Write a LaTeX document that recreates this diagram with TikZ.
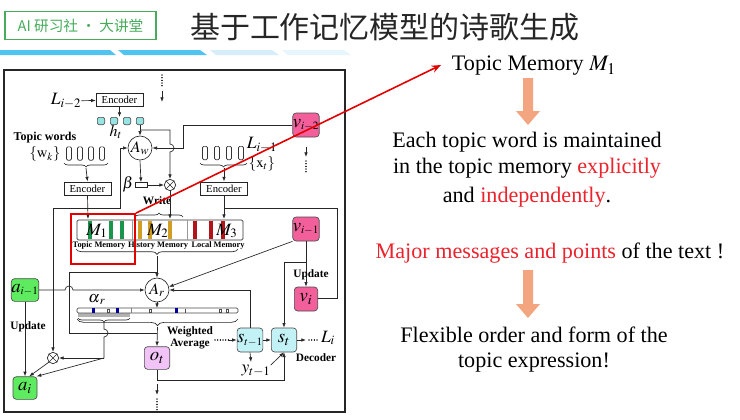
\documentclass[tikz,border=0pt]{standalone}
\usepackage{mathptmx}
\usepackage{fontspec}
\setmainfont{Liberation Serif}
\newfontfamily\cjk{Noto Sans CJK SC}
\usetikzlibrary{arrows.meta,decorations.pathreplacing}
\definecolor{vpink}{RGB}{242,95,155}
\definecolor{agreen}{RGB}{95,235,95}
\definecolor{scyan}{RGB}{195,242,246}
\definecolor{oviolet}{RGB}{242,195,246}
\definecolor{hcyan}{RGB}{150,228,228}
\definecolor{mgreen}{RGB}{25,150,75}
\definecolor{myellow}{RGB}{208,158,35}
\definecolor{mred}{RGB}{178,20,25}
\definecolor{barblue}{RGB}{80,195,240}
\definecolor{barlight}{RGB}{215,238,250}
\definecolor{badge}{RGB}{70,172,90}
\definecolor{orarrow}{RGB}{243,165,128}
\definecolor{hlred}{RGB}{235,35,45}
\newcommand\ssub[1]{{\scriptscriptstyle #1}}
\begin{document}
\begin{tikzpicture}[x=0.75pt,y=-0.75pt,
  ln/.style={draw=black!85, line width=0.5pt},
  ar/.style={ln, -{Latex[length=3.5pt,width=2.6pt]}},
  dotline/.style={draw=black, line width=1pt, dash pattern=on 0.01pt off 2pt, line cap=round},
  rbox/.style={draw=black!70, rounded corners=2.5pt, inner sep=0pt, line width=0.5pt, font=\fontsize{14}{14}\selectfont},
  vbox/.style={rbox, fill=vpink, minimum width=17.5pt, minimum height=18pt},
  abox/.style={rbox, fill=agreen, minimum width=18pt, minimum height=17pt},
  sbox/.style={rbox, fill=scyan, minimum width=19pt, minimum height=18pt},
  obox/.style={rbox, fill=oviolet, minimum width=19pt, minimum height=17pt},
  att/.style={circle, draw=black!85, line width=0.5pt, minimum size=18pt, inner sep=0pt, font=\fontsize{12}{12}\selectfont},
  otimes/.style={circle, draw=black!85, line width=0.5pt, minimum size=8.5pt, inner sep=0pt,
    path picture={\draw[line width=0.4pt] (path picture bounding box.south west) -- (path picture bounding box.north east) (path picture bounding box.north west) -- (path picture bounding box.south east);}},
  enc/.style={draw=black!85, line width=0.5pt, inner sep=0pt, minimum width=35pt, minimum height=10pt, font=\fontsize{8}{8}\selectfont},
  bl/.style={font=\fontsize{8.5}{9}\selectfont\bfseries, inner sep=0pt},
  ml/.style={font=\fontsize{13}{13}\selectfont, inner sep=0pt},
  tw/.style={draw=black!80, line width=0.5pt, rounded corners=1pt, minimum width=3.8pt, minimum height=10pt, inner sep=0pt},
  txt/.style={font=\fontsize{16.6}{19}\selectfont, inner sep=0pt},
  brc/.style={ln, decorate, decoration={brace, amplitude=#1}},
]
\useasboundingbox (0,0) rectangle (740,419);
\fill[white] (0,0) rectangle (740,419);

% ---------- header ----------
\node[draw=badge, line width=1.3pt, fill=white, minimum width=113pt, minimum height=21pt, inner sep=0pt,
      font=\cjk\fontsize{11}{11}\selectfont, text=badge] (badge) at (80.5,25.5) {AI 研习社 · 大讲堂};
\node[font=\cjk\fontsize{22.5}{24}\selectfont, text=black!85, inner sep=0pt] (title) at (385,27) {基于工作记忆模型的诗歌生成};
\fill[barblue] (0,50) -- (110,50) -- (116,55) -- (0,55) -- cycle;
\fill[barblue] (118,50) -- (200,50) -- (207,55) -- (124,55) -- cycle;
\fill[barlight] (210,50) -- (272,50) -- (279,55) -- (216,55) -- cycle;
\fill[barlight!60] (282,50) -- (344,50) -- (351,55) -- (288,55) -- cycle;

% ---------- frame ----------
\draw[line width=1.2pt, black!85] (4,70) rectangle (345,412);

% ---------- top part ----------
\coordinate (td1) at (162,75); \coordinate (td2) at (162,87);
\coordinate (ta1) at (162,91); \coordinate (ta2) at (162,102);
\draw[dotline] (td1) -- (td2);
\draw[ar] (ta1) -- (ta2);

\node[ml] (L2) at (66,101) {$L_{i-2}$};
\node[enc] (enc1) at (119.5,100) {Encoder};
\draw[ar] (L2) -- (enc1);
\foreach \i/\x in {1/101,2/114,3/127,4/140}
  \node[rbox, fill=hcyan, minimum size=5.5pt, rounded corners=1.5pt] (h\i) at (\x,121) {};
\coordinate (hin) at (119.5,117);
\draw[ar] (enc1.south) -- (hin);
\node[ml, font=\fontsize{12}{12}\selectfont] (hl) at (116,132) {$h_t$};

\node[att] (Aw) at (140,148) {$A_w$};
\node[otimes] (x1) at (170,185) {};
\coordinate (hj) at (140,130);
\draw[ar] (h4.south) -- (Aw.north);
\draw[ar] (hj) -- (170,130) -- (170,144) arc[start angle=90,end angle=-90,radius=3pt] -- (x1.north);

\node[vbox] (v2) at (306,125) {$v_{\ssub{i-2}}$};
\draw[ar] (v2.west) -- (183,125) -- (183,148) -- (Aw.east);
\coordinate (va1) at (306,147); \coordinate (va2) at (306,157);
\coordinate (vd1) at (306,161); \coordinate (vd2) at (306,173);
\draw[ar] (va1) -- (va2);
\draw[dotline] (vd1) -- (vd2);

\node[ml, font=\fontsize{12}{12}\selectfont] (beta) at (128,184) {$\beta$};
\node[draw=black!85, line width=0.5pt, minimum width=9pt, minimum height=3.8pt, inner sep=0pt] (bg) at (141,185) {};
\draw[ar] (Aw.south) -- (bg.north);
\draw[ar] (bg.east) -- (x1.west);
\node[bl] (write) at (157,201) {Write};
\coordinate (m2in) at (170,219);
\draw[ar] (x1.south) -- (m2in);

% topic words
\node[bl, font=\fontsize{9}{9}\selectfont\bfseries] (twl) at (45,138) {Topic words};
\node[ml, font=\fontsize{11}{11}\selectfont] (wk) at (45,154) {$\{\mathrm{w}_k\}$};
\foreach \i/\x in {1/69,2/80,3/91,4/102} \node[tw] (tw\i) at (\x,153.5) {};
\draw[brc=3pt] (108,163) -- (64,163);
\coordinate (twb) at (86,168);
\node[enc] (enc2) at (87.5,188.5) {Encoder};
\draw[ar] (twb) -- (enc2.north);
\coordinate (m1in) at (88,219);
\draw[ar] (enc2.south) -- (m1in);

% local words
\foreach \i/\x in {1/205,2/217,3/229,4/241} \node[tw] (lw\i) at (\x,153) {};
\draw[brc=3pt] (247,163) -- (200,163);
\coordinate (lwb) at (224,168);
\node[ml] (L1) at (262,145) {$L_{i-1}$};
\node[ml, font=\fontsize{11}{11}\selectfont] (xt) at (262,164) {$\{\mathrm{x}_t\}$};
\node[enc] (enc3) at (224,188.5) {Encoder};
\draw[ar] (lwb) -- (enc3.north);
\coordinate (m3in) at (224,219);
\draw[ar] (enc3.south) -- (m3in);
\coordinate (j3) at (224,208);

% ---------- memory ----------
\node[draw=black!80, line width=0.5pt, rounded corners=1pt, minimum width=124.5pt, minimum height=15pt, inner sep=0pt] (mem) at (160,230) {};
\draw[black!40, line width=0.4pt] (132,220) -- (132,240) (187,220) -- (187,240);
\foreach \x in {89.5,110.5,122} \fill[mgreen] (\x-2,221) rectangle (\x+2,239);
\foreach \x in {139.5,149.5,170} \fill[myellow] (\x-2,221) rectangle (\x+2,239);
\foreach \x in {195,210.5,223} \fill[mred] (\x-2,221) rectangle (\x+2,239);
\node[ml] (M1) at (97,231) {$M_1$};
\node[ml] (M2) at (158,231) {$M_2$};
\node[ml] (M3) at (227,231) {$M_3$};
\node[bl, font=\fontsize{6.3}{7}\selectfont\bfseries] (lab1) at (99,245) {Topic Memory};
\node[bl, font=\fontsize{6.3}{7}\selectfont\bfseries] (lab2) at (158,245) {History Memory};
\node[bl, font=\fontsize{6.3}{7}\selectfont\bfseries] (lab3) at (218,245) {Local Memory};
\draw[brc=3pt] (135,217) -- (183,217);
\draw[brc=4pt] (238,249) -- (76,249);

% write paths from left
\coordinate (jl) at (53,208); \coordinate (jr) at (120,208);
\node[otimes] (x2) at (53,358) {};
\draw[ar] (jl) -- (x2.north);
\draw[ar] (jl) -- (jr) |- (Aw.west);
\draw[ar] (j3) -- (337,208) |- (306,298);

% ---------- read part ----------
\node[att] (Ar) at (157,290) {$A_r$};
\coordinate (mb) at (157,256);
\draw[ar] (mb) -- (Ar.north);
\coordinate (rj) at (157,272);
\draw[ln] (rj) -- (69,272) -- (69,333) -- (157,333);

\node[abox] (a1) at (25,290) {$a_{\ssub{i-1}}$};
\node[abox] (ai) at (25,388) {$a_i$};
\draw[ar] (a1.east) -- (65,290) arc[start angle=180,end angle=0,radius=3pt] -- (Ar.west);
\draw[ar] (a1.south) -- (ai.north);
\node[bl] (upd2) at (28,327) {Update};

% alpha bar
\fill[gray!60] (78,312) rectangle (130,317);
\draw[black!70, fill=white, line width=0.5pt, rounded corners=1pt] (77,308) rectangle (238,313);
\coordinate (abtop) at (157,308);
\draw[black!50, line width=0.4pt] (131,308) -- (131,313);
\foreach \x in {93,117,176} \fill[blue!60!black] (\x-1.5,308.3) rectangle (\x+1.5,312.7);
\foreach \x in {108,150,220,227} \draw[black!70, line width=0.3pt] (\x-1.3,308.8) rectangle (\x+1.3,312.2);
\draw[black!70, line width=0.4pt] (185,308.5) -- (185,312.5);
\node[ml, font=\fontsize{12}{12}\selectfont] (alr) at (97,299.5) {$\alpha_{\,r}$};
\draw[ar] (Ar.south) -- (abtop);
\draw[brc=3pt] (130,318) -- (78,318);
\draw[brc=5pt] (238,319) -- (77,319);
\coordinate (sb) at (104,322);
\coordinate (sbj) at (104,358);
\draw[ln] (sb) -- (104,329) arc[start angle=90,end angle=-90,radius=3pt] -- (sbj);
\draw[ar] (sbj) -- (x2.east);
\draw[ar] (sbj) -- (ai.45);
\draw[ar] (x2.south west) -- (ai.70);

\node[obox] (ot) at (157,358) {$o_t$};
\coordinate (bt) at (157.5,327);
\draw[ar] (bt) -- (ot.north);
\node[bl, align=center] (wavg) at (190,338) {Weighted\\Average};

% decoder
\node[sbox] (st1) at (250,340) {$s_{\ssub{t-1}}$};
\node[sbox] (st) at (284,340) {$s_t$};
\draw[ar] (st1) -- (st);
\coordinate (dd1) at (215,340); \coordinate (dd2) at (229,340);
\draw[dotline] (dd1) -- (dd2);
\draw[ar] (dd2) -- (st1.west);
\coordinate (do1) at (306,340); \coordinate (do2) at (309,340); \coordinate (do3) at (319,340);
\draw[ar] (st.east) -- (do1);
\draw[dotline] (do2) -- (do3);
\node[ml] (Li) at (328,338) {$L_i$};
\node[bl] (dec) at (316,358) {Decoder};
\node[ml] (yt) at (256,371) {$y_{t-1}$};
\coordinate (ya) at (251,362);
\draw[ar] (st1.south) -- (ya);
\draw[ar] (yt.north east) -- (st.south);
\coordinate (oc) at (284,380);
\draw[ar] (ot.south) |- (oc) -- (st.south);
\coordinate (oa1) at (157,384); \coordinate (oa2) at (157,395);
\coordinate (od1) at (157,399); \coordinate (od2) at (157,411);
\draw[ar] (oa1) -- (oa2);
\draw[dotline] (od1) -- (od2);
\draw[ar] (st1.north) |- (Ar.east);

% history trace
\node[vbox] (v1) at (306,229) {$v_{\ssub{i-1}}$};
\node[vbox] (vi) at (306,299) {$v_i$};
\draw[ar] (v1.south) -- (vi.north);
\node[bl] (upd1) at (311,275) {Update};
\coordinate (vj) at (306,262);
\draw[ar] (vj) -- (284,262) -- (st.north);
\draw[ar] (v1.south west) -- (Ar.15);

% ---------- highlight ----------
\node[draw=red!90!black, line width=1.3pt, minimum width=48pt, minimum height=37.5pt, inner sep=0pt] (redbox) at (103,239) {};
\coordinate (tmarr) at (441,65);
\draw[red!90!black, line width=1.2pt, -{Stealth[length=7pt,width=5.5pt]}] (redbox.north east) -- (tmarr);

% ---------- right text ----------
\node[txt] (tm) at (534,66) {Topic Memory $M_1$};
\fill[orarrow] (523,78) -- (533,78) -- (533,111) -- (540,111) -- (528,125) -- (516,111) -- (523,111) -- cycle;
\node[txt] (t1) at (527,142) {Each topic word is maintained};
\node[txt] (t2) at (527,168) {in the topic memory \textcolor{hlred}{explicitly}};
\node[txt] (t3) at (527,197) {and \textcolor{hlred}{independently}.};
\node[txt] (t4) at (550,253) {\textcolor{hlred}{Major messages and points} of the text !};
\fill[orarrow] (523,270) -- (533,270) -- (533,304) -- (540,304) -- (528,318) -- (516,304) -- (523,304) -- cycle;
\node[txt] (t5) at (534,335) {Flexible order and form of the};
\node[txt] (t6) at (534,363) {topic expression!};
\end{tikzpicture}
\end{document}
